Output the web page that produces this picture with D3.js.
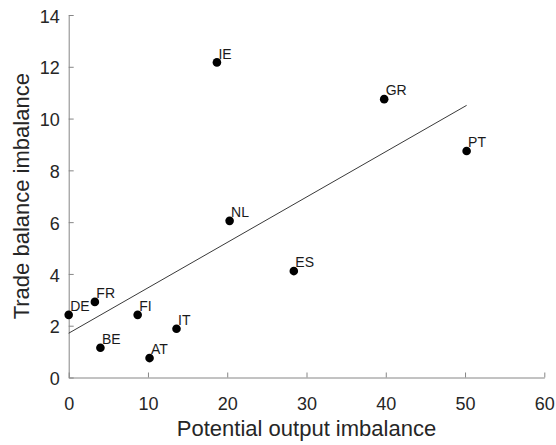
<!DOCTYPE html>
<html>
<head>
<meta charset="utf-8">
<script src="https://cdn.jsdelivr.net/npm/d3@7"></script>
<style>
  body { margin: 0; background: #fff; }
  svg { font-family: "Liberation Sans", Arial, sans-serif; }
</style>
</head>
<body>
<div id="chart"></div>
<script>
// country codes and their (potential output, trade balance) imbalances
const countries = ['DE', 'FR', 'FI', 'IT', 'BE', 'AT', 'IE', 'GR', 'PT', 'NL', 'ES'];
const outputImbalance = [0, 3.3, 8.7, 13.6, 4.0, 10.2, 18.7, 39.8, 50.2, 20.3, 28.4];
const tradeImbalance = [2.42, 2.92, 2.42, 1.88, 1.15, 0.75, 12.17, 10.75, 8.75, 6.05, 4.11];

// fitted line endpoints as drawn
const fitX = [0, 50.2];
const fitY = [1.71, 10.51];

const xTicks = [0, 10, 20, 30, 40, 50, 60];
const yTicks = [0, 2, 4, 6, 8, 10, 12, 14];

const width = 556;
const height = 445;
const axisColor = '#868686';
const textColor = '#262626';

const svg = d3.select('#chart')
  .append('svg')
  .attr('width', width)
  .attr('height', height);

const x = d3.scaleLinear().domain([0, 60]).range([68.7, 544.3]);
const y = d3.scaleLinear().domain([0, 14]).range([377.5, 15]);

const xAxis = svg.append('g')
  .attr('transform', `translate(0,${y(0)})`)
  .call(d3.axisBottom(x).tickValues(xTicks).tickSizeInner(-5).tickSizeOuter(0).tickPadding(20));

const yAxis = svg.append('g')
  .attr('transform', `translate(${x(0)},0)`)
  .call(d3.axisLeft(y).tickValues(yTicks).tickSizeInner(-5).tickSizeOuter(0).tickPadding(9));

[xAxis, yAxis].forEach(a => {
  a.select('.domain').attr('stroke', axisColor).attr('stroke-width', 1);
  a.selectAll('.tick line').attr('stroke', axisColor);
  a.selectAll('.tick text')
    .attr('fill', textColor)
    .style('font-size', '18px')
    .style('font-family', '"Liberation Sans", Arial, sans-serif');
});
yAxis.selectAll('.tick text').attr('dy', '0.4em');

// regression line
svg.append('line')
  .attr('x1', x(fitX[0]))
  .attr('y1', y(fitY[0]))
  .attr('x2', x(fitX[1]))
  .attr('y2', y(fitY[1]))
  .attr('stroke', '#222')
  .attr('stroke-width', 0.9);

const points = countries.map((c, i) => ({ name: c, px: outputImbalance[i], py: tradeImbalance[i] }));

svg.append('g')
  .selectAll('circle')
  .data(points)
  .join('circle')
  .attr('cx', d => x(d.px))
  .attr('cy', d => y(d.py))
  .attr('r', 4.3)
  .attr('fill', '#000');

svg.append('g')
  .selectAll('text')
  .data(points)
  .join('text')
  .attr('x', d => x(d.px) + 1.5)
  .attr('y', d => y(d.py) - 3.8)
  .attr('fill', '#1a1a1a')
  .style('font-size', '14px')
  .text(d => d.name);

// axis titles
svg.append('text')
  .attr('x', (x(0) + x(60)) / 2)
  .attr('y', 436)
  .attr('text-anchor', 'middle')
  .attr('fill', textColor)
  .style('font-size', '22px')
  .text('Potential output imbalance');

svg.append('text')
  .attr('transform', `translate(28.5,${(y(0) + y(14)) / 2}) rotate(-90)`)
  .attr('text-anchor', 'middle')
  .attr('fill', textColor)
  .style('font-size', '22px')
  .text('Trade balance imbalance');
</script>
</body>
</html>
